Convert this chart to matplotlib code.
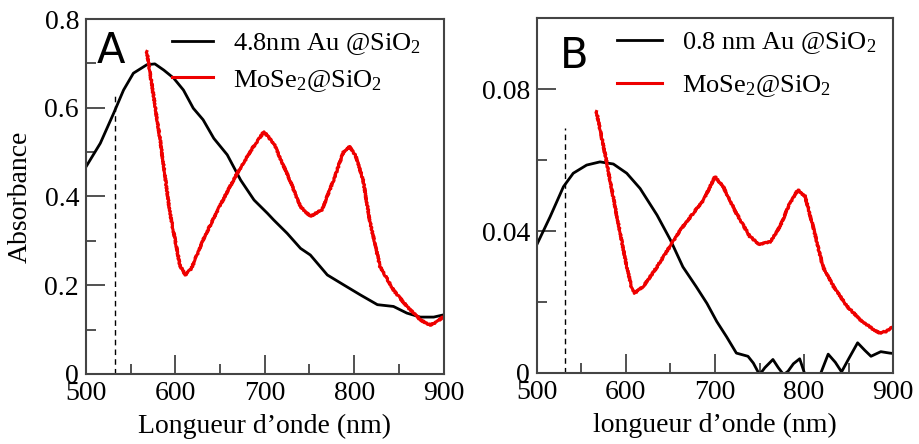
import numpy as np
import matplotlib
matplotlib.use("Agg")
import matplotlib.pyplot as plt

plt.rcParams['font.family'] = ['Liberation Serif', 'DejaVu Serif']
plt.rcParams['mathtext.default'] = 'regular'

# Panel A, 4.8 nm Au@SiO2
wl_au48 = [500, 516, 531, 542, 553, 568, 577, 587, 598, 609, 620, 631, 643, 658, 673, 688,
           703, 710, 725, 740, 751, 770, 788, 807, 826, 844, 859, 874, 889, 900]
abs_au48 = [0.467, 0.520, 0.588, 0.640, 0.678, 0.697, 0.699, 0.685, 0.667, 0.640, 0.599,
            0.573, 0.531, 0.494, 0.437, 0.392, 0.362, 0.347, 0.317, 0.283, 0.268, 0.223,
            0.201, 0.178, 0.156, 0.152, 0.137, 0.128, 0.128, 0.133]

# Panel A, MoSe2@SiO2
wl_mose2_a = [568, 583, 594, 605, 611, 618, 631, 650, 669, 685, 699, 710, 728, 740, 751,
              764, 777, 788, 795, 802, 810, 818, 829, 844, 859, 874, 885, 893, 900]
abs_mose2_a = [0.727, 0.527, 0.362, 0.245, 0.223, 0.238, 0.302, 0.380, 0.452, 0.505, 0.546,
               0.520, 0.437, 0.377, 0.355, 0.370, 0.437, 0.500, 0.513, 0.490, 0.437, 0.340,
               0.242, 0.189, 0.152, 0.122, 0.110, 0.118, 0.129]

# Panel B, 0.8 nm Au@SiO2
wl_au08 = [500, 515, 530, 541, 556, 571, 586, 601, 616, 635, 650, 664, 679, 691, 702, 713,
           724, 737, 743, 750, 756, 765, 771, 777, 782, 788, 795, 801, 810, 818, 827, 835,
           842, 850, 860, 868, 875, 886, 896, 900]
abs_au08 = [0.0361, 0.0440, 0.0525, 0.0563, 0.0586, 0.0595, 0.0589, 0.0563, 0.0520, 0.0445,
            0.0375, 0.0299, 0.0243, 0.0196, 0.0145, 0.0102, 0.0056, 0.0047, 0.0028, -0.0005,
            0.0015, 0.0038, 0.0015, -0.0005, 0.0005, 0.0026, 0.0040, -0.0005, -0.0030,
            -0.0005, 0.0053, 0.0030, 0.0003, 0.0040, 0.0085, 0.0064, 0.0047, 0.0060, 0.0056,
            0.0055]

# Panel B, MoSe2@SiO2
wl_mose2_b = [567, 578, 590, 601, 606, 610, 620, 635, 661, 687, 700, 709, 724, 739, 750,
              762, 773, 784, 793, 801, 810, 821, 833, 848, 863, 878, 885, 892, 900]
abs_mose2_b = [0.0737, 0.0600, 0.0441, 0.0300, 0.0245, 0.0225, 0.0245, 0.0299, 0.0403,
               0.0487, 0.0553, 0.0526, 0.0450, 0.0385, 0.0362, 0.0370, 0.0413, 0.0479,
               0.0516, 0.0498, 0.0413, 0.0300, 0.0244, 0.0188, 0.0150, 0.0122, 0.0113,
               0.0117, 0.0131]

marker_wl = 532
marker_top_a = 0.633
marker_top_b = 0.069

fig = plt.figure(figsize=(9.19, 4.44), dpi=100)
axA = fig.add_axes([0.0936, 0.158, 0.389, 0.799])
axB = fig.add_axes([0.584, 0.160, 0.388, 0.799])


def style_axis(ax, ymax, ymajor, yminor):
    ax.set_xlim(500, 900)
    ax.set_ylim(0, ymax)
    ax.set_xticks(np.arange(500, 901, 100))
    ax.set_xticks(np.arange(550, 900, 100), minor=True)
    ax.set_yticks(np.arange(0, ymax + 1e-9, ymajor))
    ax.set_yticks(np.arange(yminor, ymax, ymajor), minor=True)
    ax.tick_params(which='both', direction='in', top=False, right=False,
                   labelsize=20, width=1.2, color='#333333')
    ax.tick_params(which='major', length=14, pad=5)
    ax.tick_params(which='minor', length=7.5)
    for s in ax.spines.values():
        s.set_linewidth(1.5)
        s.set_color('#444444')


def add_legend(ax, x0, spacing, hlen):
    leg = ax.legend(loc='upper left', bbox_to_anchor=(x0, 0.967), frameon=False,
                    fontsize=19, handlelength=hlen, handletextpad=0.75, borderpad=0,
                    borderaxespad=0, labelspacing=spacing)
    for h in leg.legend_handles:
        h.set_sketch_params(None)
    return leg


# ---- panel A
axA.plot(wl_au48, abs_au48, color='black', lw=2, label='4.8nm Au @SiO$_2$')
redA, = axA.plot(wl_mose2_a, abs_mose2_a, color='#ee0000', lw=2.2, label='MoSe$_2$@SiO$_2$')
redA.set_sketch_params(scale=0.7, length=2.5, randomness=2)
axA.plot([marker_wl, marker_wl], [0, marker_top_a], color='black', lw=1, ls=(0, (4, 3)))
style_axis(axA, 0.8, 0.2, 0.1)
axA.set_yticklabels(['0', '0.2', '0.4', '0.6', '0.8'])
axA.set_xlabel('Longueur d\u2019onde (nm)', fontsize=20, labelpad=6)
axA.set_ylabel('Absorbance', fontsize=20)
axA.yaxis.set_label_coords(-0.148, 0.5)
axA.text(0.03, 0.876, 'A', transform=axA.transAxes, fontsize=30,
         family='DejaVu Sans', va='baseline')
add_legend(axA, 0.241, 0.41, 1.55)

# ---- panel B
axB.plot(wl_au08, abs_au08, color='black', lw=2, label='0.8 nm Au @SiO$_2$')
redB, = axB.plot(wl_mose2_b, abs_mose2_b, color='#ee0000', lw=2.2, label='MoSe$_2$@SiO$_2$')
redB.set_sketch_params(scale=0.7, length=2.5, randomness=2)
axB.plot([marker_wl, marker_wl], [0, marker_top_b], color='black', lw=1, ls=(0, (4, 3)))
style_axis(axB, 0.1, 0.04, 0.02)
axB.set_yticks([0, 0.04, 0.08])
axB.set_yticks([0.02, 0.06], minor=True)
axB.set_yticklabels(['0', '0.04', '0.08'])
axB.set_xlabel('longueur d\u2019onde (nm)', fontsize=20, labelpad=6)
axB.text(0.065, 0.86, 'B', transform=axB.transAxes, fontsize=30,
         family='DejaVu Sans', va='baseline')
add_legend(axB, 0.225, 0.64, 1.7)

fig.savefig('out.png', dpi=100)
